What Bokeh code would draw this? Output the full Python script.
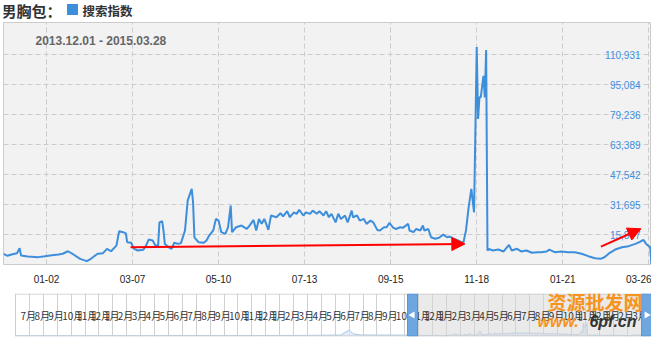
import numpy as np
import pandas as pd
from bokeh.plotting import figure
from bokeh.layouts import column
from bokeh.models import FixedTicker, DatetimeTickFormatter, Range1d, Arrow, NormalHead, ColumnDataSource
from bokeh.core.properties import value
from bokeh.embed import file_html
from bokeh.resources import INLINE

# ---------------- data ----------------
title_text = "男胸包："
legend_text = "搜索指数"
range_text = "2013.12.01 - 2015.03.28"
start_date = "2013-12-01"
end_date = "2015-03-28"

day_offsets = [0, 3, 6, 10, 12, 13, 18, 26, 31, 36, 41, 44, 48, 52, 57, 62, 65, 70, 74, 77,
               80, 84, 86, 89, 91, 92, 95, 97, 100, 104, 106, 108, 111, 113, 115, 116, 118, 119, 120, 123,
               125, 127, 130, 132, 135, 137, 140, 141, 142, 145, 149, 151, 153, 156, 158, 160, 162, 165, 167, 169,
               170, 173, 177, 181, 183, 186, 188, 190, 192, 194, 197, 199, 203, 206, 208, 211, 213, 216, 218, 220,
               223, 225, 228, 230, 233, 235, 238, 240, 242, 244, 247, 249, 251, 254, 256, 259, 260, 263, 265, 268,
               270, 273, 275, 278, 280, 283, 285, 287, 290, 292, 295, 297, 301, 302, 305, 307, 310, 312, 313, 316,
               318, 321, 324, 327, 330, 332, 335, 338, 342, 344, 346, 348, 350, 352, 353, 354, 355, 357, 358, 359,
               360, 361, 364, 368, 372, 376, 378, 382, 385, 389, 393, 397, 400, 404, 406, 410, 415, 420, 425, 430,
               435, 440, 444, 447, 451, 455, 460, 465, 470, 473, 476, 478, 481, 482]
index_values = [5600, 4600, 5300, 6000, 8600, 4800, 4200, 3900, 4400, 4900, 5300, 5700, 7000, 5300, 3000, 1800, 3000, 5700, 6000, 8300,
                7000, 10000, 17600, 17100, 16500, 11800, 11500, 8300, 7400, 7800, 10000, 13200, 12700, 10000, 10000, 22300, 22900, 18000, 10900, 9100,
                8300, 11500, 10900, 11300, 18000, 33800, 40000, 32900, 14400, 11800, 11500, 12700, 15300, 18000, 24100, 23200, 17100, 16200, 19700, 31200,
                17100, 19700, 20600, 18800, 20600, 23600, 18000, 24100, 21500, 24100, 18300, 25900, 25000, 27100, 25400, 28200, 25000, 27600, 26800, 28900,
                25900, 27600, 26800, 28500, 26800, 28200, 25900, 28200, 25000, 26800, 22300, 26800, 24100, 25900, 22300, 28500, 25000, 25900, 23200, 24100,
                21500, 23200, 22300, 18300, 18000, 19700, 19700, 22000, 19400, 18800, 19700, 19400, 21500, 18000, 17100, 18800, 18000, 20600, 18000, 18800,
                14400, 13600, 14100, 15800, 14400, 14800, 13600, 12700, 11300, 18000, 30300, 40000, 27600, 115000, 77000, 88400, 88400, 99800, 88400, 113400,
                7400, 8300, 7400, 7900, 6900, 10400, 7400, 8300, 6900, 7400, 6200, 6500, 6500, 6900, 7900, 6500, 6900, 6500, 6500, 5650,
                4400, 3350, 3000, 3850, 6200, 7900, 9100, 9700, 10900, 11800, 13000, 10900, 9100, 0]

x_tick_dates = ["2014-01-02", "2014-03-07", "2014-05-10", "2014-07-13", "2014-09-15",
                "2014-11-18", "2015-01-21", "2015-03-26"]
y_tick_values = [15847, 31695, 47542, 63389, 79236, 95084, 110931]
y_tick_labels = ["15,847", "31,695", "47,542", "63,389", "79,236", "95,084", "110,931"]
y_max = 128000

# red annotation arrows (day offset / value)
arrow_start_day = [94.5, 444.4]
arrow_start_val = [9100, 9500]
arrow_end_day = [343.2, 474.2]
arrow_end_val = [10900, 18900]

# navigator (overview strip)
month_labels = ["7月", "8月", "9月", "10月", "11月", "12月", "1月", "2月", "3月", "4月", "5月", "6月",
                "7月", "8月", "9月", "10月", "11月", "12月", "1月", "2月", "3月", "4月", "5月", "6月",
                "7月", "8月", "9月", "10月", "11月", "12月", "1月", "2月", "3月", "4月", "5月", "6月",
                "7月", "8月", "9月", "10月", "11月", "12月", "1月", "2月", "3月"]
nav_pre_idx = [0, 3, 6, 9, 12, 15, 18, 21, 23.4, 24.0, 24.3, 24.8, 26, 28.5]
nav_pre_val = [3000, 2500, 3500, 3000, 4000, 3500, 5000, 6000, 9000, 55000, 20000, 10000, 9000, 8000]
nav_sel = [28.56, 45.4]
nav_span = 45.75
nav_ymax = 380000
nav_ymin = -4000

# ---------------- styles ----------------
BLUE = "#3d8edb"
LATIN = value("Liberation Sans")
CJK = value("Noto Sans CJK SC")
PX_PER_MONTH = 13.9
NAV_LEFT_PAD = 12  # white gap between page frame edge and the navigator box

start = np.datetime64(start_date)
end = np.datetime64(end_date)
dates = start + np.array(day_offsets).astype("timedelta64[D]")
src = ColumnDataSource(dict(x=dates, y=index_values))

# ---------------- header ----------------
h = figure(width=651, height=21, x_range=Range1d(3, 651), y_range=Range1d(21, 0),
           toolbar_location=None, output_backend="svg",
           min_border_left=3, min_border_right=0, min_border_top=0, min_border_bottom=0,
           x_axis_location=None, y_axis_location=None, outline_line_color=None)
h.grid.visible = False
h.text(x=[1], y=[10], text=[title_text], text_font=CJK, text_font_size="15px",
       text_font_style="bold", text_color="#333333", text_baseline="middle")
h.scatter(x=[72], y=[9], marker="square", size=11, fill_color=BLUE, line_color=None)
h.text(x=[82], y=[10], text=[legend_text], text_font=CJK, text_font_size="12.5px",
       text_font_style="bold", text_color="#333333", text_baseline="middle")

# ---------------- main chart ----------------
p = figure(width=651, height=266, x_axis_type="datetime",
           x_range=Range1d(start, end), y_range=Range1d(0, y_max),
           y_axis_location=None, toolbar_location=None, output_backend="svg",
           min_border_left=3, min_border_right=0, min_border_top=1, min_border_bottom=23)
p.background_fill_color = "#f2f2f2"
p.border_fill_color = "white"
p.outline_line_color = "#cccccc"

tick_ms = [pd.Timestamp(d).value / 1e6 for d in x_tick_dates]
p.xaxis.ticker = FixedTicker(ticks=tick_ms)
p.xaxis.formatter = DatetimeTickFormatter(days="%m-%d", months="%m-%d", years="%m-%d")
p.xaxis.major_tick_line_color = None
p.xaxis.minor_tick_line_color = None
p.xaxis.axis_line_color = "#cccccc"
p.xaxis.major_label_text_font = "Liberation Sans"
p.xaxis.major_label_text_font_size = "10px"
p.xaxis.major_label_text_color = "#222222"
p.xaxis.major_label_standoff = 4

p.xgrid.ticker = FixedTicker(ticks=tick_ms)
p.ygrid.ticker = FixedTicker(ticks=y_tick_values)
for g in (p.xgrid, p.ygrid):
    g.grid_line_color = "#cccccc"
    g.grid_line_dash = "5 3"
    g.grid_line_width = 1

p.line("x", "y", source=src, line_color=BLUE, line_width=2)

p.text(x=[end] * len(y_tick_values), y=y_tick_values, text=y_tick_labels,
       x_offset=-11, text_align="right", text_baseline="middle",
       text_font=LATIN, text_font_size="10px", text_color="#3d8ee0")
p.text(x=[start], y=[y_max], text=[range_text], x_offset=32, y_offset=18,
       text_baseline="middle", text_font=LATIN, text_font_size="12px",
       text_font_style="bold", text_color="#666666")

asrc = ColumnDataSource(dict(
    xs=start + (np.array(arrow_start_day) * 24).astype("timedelta64[h]"),
    ys=arrow_start_val,
    xe=start + (np.array(arrow_end_day) * 24).astype("timedelta64[h]"),
    ye=arrow_end_val))
p.add_layout(Arrow(source=asrc, x_start="xs", y_start="ys", x_end="xe", y_end="ye",
                   line_color="#ff0000", line_width=2,
                   end=NormalHead(size=13, fill_color="#ff0000", line_color="#ff0000")))

# ---------------- navigator ----------------
nav_x0 = -NAV_LEFT_PAD / PX_PER_MONTH
n = figure(width=651, height=54, x_range=Range1d(nav_x0, nav_span), y_range=Range1d(nav_ymin, nav_ymax),
           x_axis_location=None, y_axis_location=None, toolbar_location=None,
           output_backend="svg", min_border_left=3, min_border_right=0,
           min_border_top=6, min_border_bottom=5)
n.outline_line_color = None
n.background_fill_color = "white"
n.ygrid.visible = False
n.xgrid.ticker = FixedTicker(ticks=list(range(len(month_labels) + 1)))
n.xgrid.grid_line_color = "#d0d0d0"

nav_x = list(nav_pre_idx) + [nav_sel[0] + d / 482 * (nav_sel[1] - nav_sel[0]) for d in day_offsets]
nav_y = list(nav_pre_val) + list(index_values)
n.varea(x=nav_x, y1=[nav_ymin] * len(nav_x), y2=nav_y, fill_color="#dbe9f6", fill_alpha=0.8)
n.line(nav_x, nav_y, line_color="#a9cbea", line_width=1)

n.quad(left=[nav_sel[0]], right=[nav_sel[1]], bottom=[nav_ymin], top=[nav_ymax],
       fill_color="#d6d6d6", fill_alpha=0.5, line_color=None)

# navigator box border (kept just inside the frame so that it is not clipped)
pad_y = (nav_ymax - nav_ymin) / 43 * 0.6
n.quad(left=[0], right=[nav_span + 1], bottom=[nav_ymin + pad_y], top=[nav_ymax - pad_y],
       fill_color=None, line_color="#cccccc", line_width=1)

mid = (nav_ymax + nav_ymin) / 2
n.text(x=list(range(len(month_labels))), y=[mid] * len(month_labels), text=month_labels,
       x_offset=5, text_baseline="middle", text_font=CJK, text_font_size="10px",
       text_color="#333333")

n.rect(x=nav_sel, y=[mid, mid], width=10, height=42, width_units="screen", height_units="screen",
       fill_color="#6ea7e0", line_color="#5593d3")
n.scatter(x=[nav_sel[0]], y=[mid], marker="triangle", angle=np.pi / 2, size=7,
          fill_color="white", line_color=None)
n.scatter(x=[nav_sel[1]], y=[mid], marker="triangle", angle=-np.pi / 2, size=7,
          fill_color="white", line_color=None)

# watermark
n.text(x=[nav_span], y=[nav_ymax], text=["资源批发网"], x_offset=-9, y_offset=-6,
       text_align="right", text_baseline="top", text_font=CJK, text_font_size="19px",
       text_font_style="bold", text_color="#f7941d")
n.text(x=[nav_span], y=[mid], text=["www."], x_offset=-114, y_offset=6,
       text_align="left", text_baseline="middle", text_font=LATIN, text_font_size="16px",
       text_font_style="bold italic", text_color="#f7941d")
n.text(x=[nav_span], y=[mid], text=["6pf.cn"], x_offset=-15, y_offset=6,
       text_align="right", text_baseline="middle", text_font=LATIN, text_font_size="16px",
       text_font_style="bold italic", text_color="#333333")

layout = column(h, p, n, spacing=0)
open("out.html", "w").write(file_html(layout, INLINE))
